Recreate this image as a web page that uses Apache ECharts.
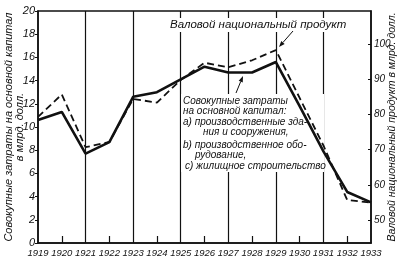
<!DOCTYPE html>
<html><head><meta charset="utf-8">
<script src="https://cdn.jsdelivr.net/npm/echarts@6/dist/echarts.min.js"></script>
<style>html,body{margin:0;padding:0;background:#fff}#c{width:402px;height:262px}</style>
</head><body><div id="c"></div>
<script>
// ---- data ----
const years = ['1919','1920','1921','1922','1923','1924','1925','1926','1927','1928','1929','1930','1931','1932','1933'];
// Совокупные затраты на основной капитал, млрд. долл. (left axis, solid)
const investment = [10.6, 11.3, 7.7, 8.7, 12.6, 13.0, 14.1, 15.2, 14.7, 14.7, 15.6, 11.8, 7.9, 4.4, 3.5];
// Валовой национальный продукт, млрд. долл. (right axis, dashed)
const gnp = [79.3, 85.7, 70.7, 72.2, 84.4, 83.4, 89.8, 94.7, 93.4, 95.4, 98.3, 84.7, 71.2, 55.7, 55.0];
const rightTicks = [50, 60, 70, 80, 90, 100];
const leftName = 'Совокупные затраты на основной капитал\nв млрд. долл.';
const rightName = 'Валовой национальный продукт в млрд. долл.';
const gnpLabel = 'Валовой национальный продукт';
const noteLines = ['Совокупные затраты', 'на основной капитал:', 'а) производственные зда-', 'ния и сооружения,', 'b) производственное обо-', 'рудование,', 'с) жилищное строительство'];

const FONT = '"Liberation Sans", Arial, sans-serif';
const INK = '#111';
const chart = echarts.init(document.getElementById('c'), null, {renderer: 'canvas'});

const noteX = [183, 183, 183, 203, 183, 195, 185];
const noteY = [101, 111, 122, 132, 145, 155, 166];

function arrow(x1, y1, x2, y2) {
  const a = Math.atan2(y2 - y1, x2 - x1), L = 6, W = 2.2;
  const bx = x2 - L * Math.cos(a), by = y2 - L * Math.sin(a);
  return [
    {type: 'line', z: 5, shape: {x1: x1, y1: y1, x2: bx, y2: by}, style: {stroke: INK, lineWidth: 1}},
    {type: 'polygon', z: 5, shape: {points: [[x2, y2], [bx - W * Math.sin(a), by + W * Math.cos(a)], [bx + W * Math.sin(a), by - W * Math.cos(a)]]}, style: {fill: INK}}
  ];
}

const graphics = [
  {type: 'rect', z: 1, shape: {x: 168, y: 18, width: 182, height: 14}, style: {fill: '#fff'}},
  {type: 'text', z: 3, x: 170, y: 25, style: {text: gnpLabel, font: 'italic 11.5px ' + FONT, fill: INK, textVerticalAlign: 'middle'}},
  {type: 'rect', z: 1, shape: {x: 181, y: 94, width: 143, height: 78}, style: {fill: '#fff'}}
].concat(noteLines.map((t, i) => ({
  type: 'text', z: 3, x: noteX[i], y: noteY[i],
  style: {text: t, font: 'italic 10px ' + FONT, fill: INK, textVerticalAlign: 'middle'}
}))).concat(arrow(293, 31, 279, 47)).concat(arrow(236, 93, 243, 76));

chart.setOption({
  animation: false,
  backgroundColor: '#fff',
  grid: {left: 38, right: 31, top: 11, bottom: 19, outerBoundsMode: 'none', containLabel: false, show: true, borderColor: INK, borderWidth: 1.5, backgroundColor: 'transparent'},
  xAxis: {
    type: 'category', data: years, boundaryGap: false,
    axisLine: {lineStyle: {color: INK, width: 1.5}},
    axisTick: {show: true, inside: true, length: 7, interval: (i) => i % 2 === 1, lineStyle: {color: INK, width: 1.2}},
    splitLine: {show: true, interval: (i) => i % 2 === 0 && i > 0 && i < 14, lineStyle: {color: INK, width: 1.2}},
    axisLabel: {interval: 0, fontFamily: FONT, fontStyle: 'italic', fontSize: 9.5, color: INK, margin: 5}
  },
  yAxis: [{
    type: 'value', min: 0, max: 20, interval: 2, position: 'left',
    axisLine: {show: true, lineStyle: {color: INK, width: 1.5}},
    axisTick: {show: true, length: 3, lineStyle: {color: INK}},
    splitLine: {show: false},
    axisLabel: {fontFamily: FONT, fontStyle: 'italic', fontSize: 11, color: INK, margin: 3},
    name: leftName, nameLocation: 'middle', nameRotate: 90, nameGap: 13, nameMoveOverlap: false,
    nameTextStyle: {fontFamily: FONT, fontStyle: 'italic', fontSize: 11, color: INK, lineHeight: 11}
  }, {
    type: 'value', min: 43.5, max: 109.4, position: 'right',
    axisLine: {show: true, lineStyle: {color: INK, width: 1.5}},
    axisTick: {show: true, length: 3, inside: true, customValues: rightTicks, lineStyle: {color: INK}},
    splitLine: {show: false},
    axisLabel: {customValues: rightTicks, fontFamily: FONT, fontStyle: 'italic', fontSize: 10, color: INK, margin: 3},
    name: rightName, nameLocation: 'middle', nameRotate: 90, nameGap: 16, nameMoveOverlap: false,
    nameTextStyle: {fontFamily: FONT, fontStyle: 'italic', fontSize: 10.5, color: INK}
  }],
  series: [
    {type: 'line', data: investment, yAxisIndex: 0, symbol: 'none', z: 2, lineStyle: {color: INK, width: 2.6}},
    {type: 'line', data: gnp, yAxisIndex: 1, symbol: 'none', z: 2, lineStyle: {color: INK, width: 1.8, type: [7, 4]}}
  ],
  graphic: graphics
});
</script>
</body></html>
